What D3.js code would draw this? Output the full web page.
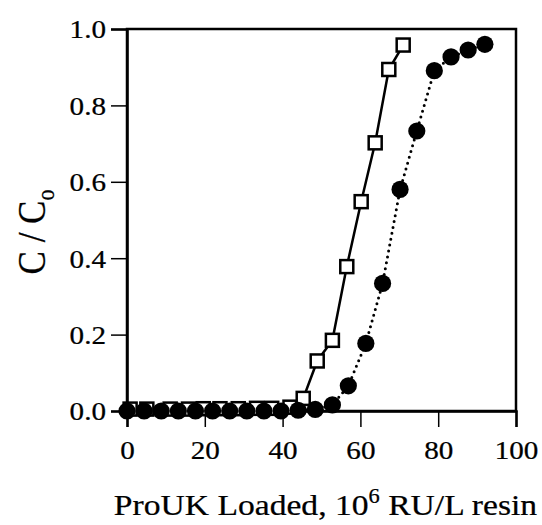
<!DOCTYPE html>
<html>
<head>
<meta charset="utf-8">
<script src="https://cdn.jsdelivr.net/npm/d3@7"></script>
<style>
  html, body { margin: 0; padding: 0; background: #fff; }
  svg { display: block; }
  text { font-family: "Liberation Serif", "Times New Roman", serif; fill: #000; stroke: #000; stroke-width: 0.25px; }
</style>
</head>
<body>
<svg id="chart" width="542" height="525"></svg>
<script>
// ---- data ----
const squareX = [0.8, 5.1, 11.1, 15.8, 19.6, 23.9, 28.6, 33.3, 37.2, 41.9, 45.3, 48.9, 52.8, 56.5, 60.2, 63.8, 67.3, 71.0];
const squareY = [0.005, 0.005, 0.005, 0.005, 0.006, 0.006, 0.006, 0.007, 0.007, 0.010, 0.033, 0.131, 0.185, 0.378, 0.548, 0.702, 0.894, 0.958];
const circleX = [0, 4.4, 8.8, 13.2, 17.6, 22.0, 26.4, 30.8, 35.2, 39.6, 44.0, 48.4, 52.8, 56.9, 61.4, 65.7, 70.2, 74.5, 79.0, 83.3, 87.7, 92.0];
const circleY = [0.0, 0.0, 0.0, 0.0, 0.0, 0.0, 0.0, 0.0, 0.0, 0.0, 0.002, 0.004, 0.016, 0.066, 0.177, 0.334, 0.580, 0.733, 0.891, 0.927, 0.945, 0.960];
const xTicks = [0, 20, 40, 60, 80, 100];
const yTicks = [0.0, 0.2, 0.4, 0.6, 0.8, 1.0];

const squares = squareX.map((x, i) => ({x, y: squareY[i]}));
const circles = circleX.map((x, i) => ({x, y: circleY[i]}));

// ---- layout ----
const W = 542, H = 525;
const m = {left: 127, right: 26, top: 29, bottom: 114};
const iw = W - m.left - m.right, ih = H - m.top - m.bottom;
const SX = 1.12; // horizontal text stretch

const svg = d3.select("#chart");
const g = svg.append("g").attr("transform", `translate(${m.left},${m.top})`);

const x = d3.scaleLinear().domain([0, 100]).range([0, iw]);
const y = d3.scaleLinear().domain([0, 1]).range([ih, 0]);

// frame
g.append("rect").attr("x", 0).attr("y", 0).attr("width", iw).attr("height", ih)
  .attr("fill", "none").attr("stroke", "#000").attr("stroke-width", 2.5);

// axes
const xAxis = g.append("g").attr("transform", `translate(0,${ih})`)
  .call(d3.axisBottom(x).tickValues(xTicks).tickSize(16).tickPadding(14).tickFormat(d3.format("d")));
const yAxis = g.append("g")
  .call(d3.axisLeft(y).tickValues(yTicks).tickSize(16).tickPadding(5).tickFormat(d3.format(".1f")));

[xAxis, yAxis].forEach(a => {
  a.select(".domain").attr("stroke", "#000").attr("stroke-width", 2.5);
  a.selectAll(".tick line").attr("stroke", "#000").attr("stroke-width", 1.5);
  a.selectAll(".tick text").attr("font-size", 26).attr("font-family", "Liberation Serif").attr("fill", "#000");
});
xAxis.selectAll(".tick text").attr("transform", `scale(${SX},1)`);
yAxis.selectAll(".tick text").attr("dy", "0.34em").each(function() {
  const t = d3.select(this);
  const xx = +t.attr("x");
  t.attr("x", xx / SX).attr("transform", `scale(${SX},1)`);
});

// lines
const line = d3.line().x(d => x(d.x)).y(d => y(d.y));
g.append("path").datum(squares).attr("d", line)
  .attr("fill", "none").attr("stroke", "#000").attr("stroke-width", 2.5);
g.append("path").datum(circles).attr("d", line)
  .attr("fill", "none").attr("stroke", "#000").attr("stroke-width", 3)
  .attr("stroke-linecap", "round").attr("stroke-dasharray", "0,6");

// square markers
const s = 13;
g.selectAll("rect.sq").data(squares).join("rect").attr("class", "sq")
  .attr("x", d => x(d.x) - s / 2).attr("y", d => y(d.y) - s / 2)
  .attr("width", s).attr("height", s)
  .attr("fill", "#fff").attr("stroke", "#000").attr("stroke-width", 2.5);

// circle markers
g.selectAll("circle.ci").data(circles).join("circle").attr("class", "ci")
  .attr("cx", d => x(d.x)).attr("cy", d => y(d.y)).attr("r", 8.6)
  .attr("fill", "#000");

// x title
const xt = svg.append("text")
  .attr("transform", `translate(${m.left + iw / 2 + 4},${515}) scale(${SX},1)`)
  .attr("text-anchor", "middle").attr("font-size", 30);
xt.append("tspan").text("ProUK Loaded, 10");
xt.append("tspan").attr("font-size", 20).attr("dy", -12).text("6");
xt.append("tspan").attr("dy", 12).text(" RU/L resin");

// y title
const yt = svg.append("text")
  .attr("transform", `translate(45,${m.top + ih / 2 + 12}) rotate(-90) scale(1,${SX})`)
  .attr("text-anchor", "middle").attr("font-size", 35);
yt.append("tspan").text("C / C");
yt.append("tspan").attr("font-size", 22).attr("dy", 8).text("o");
</script>
</body>
</html>
